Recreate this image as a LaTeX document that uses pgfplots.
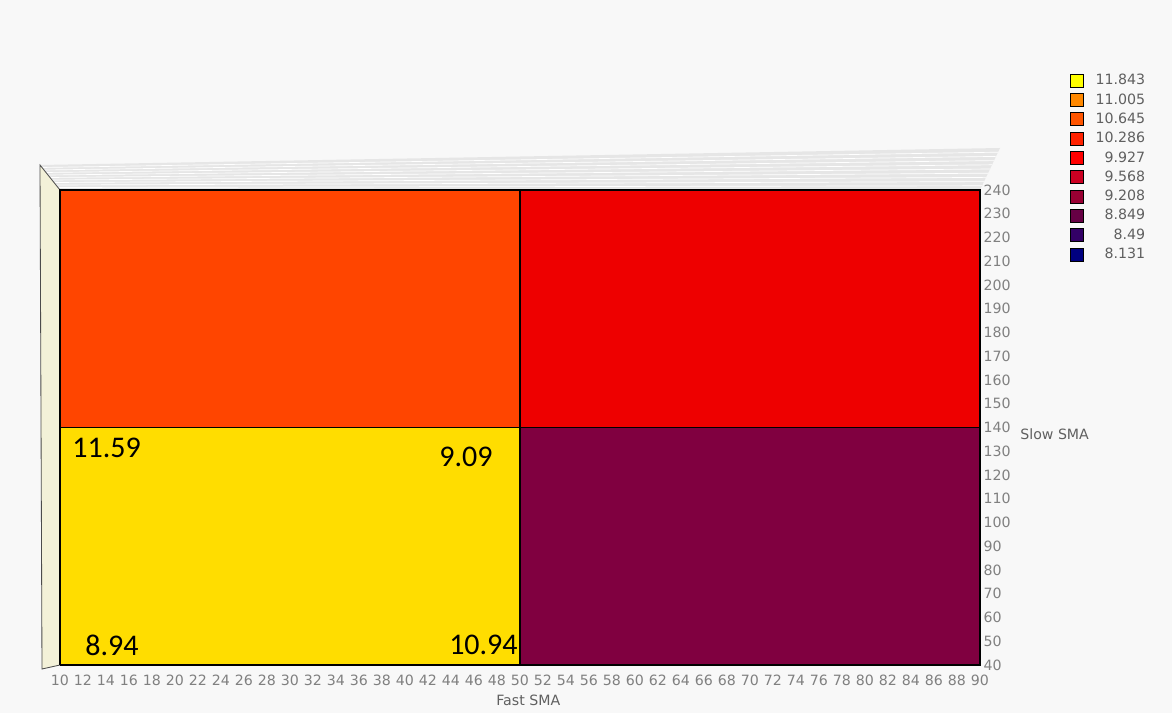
\documentclass[border=0pt]{standalone}
\usepackage{pgfplots}
\pgfplotsset{compat=1.18}
\usepackage{fontspec}
\setmainfont{DejaVu Sans}
\newfontfamily\calib{Carlito}
\definecolor{bg}{HTML}{F8F8F8}
\definecolor{tickgray}{HTML}{808080}
\definecolor{labgray}{HTML}{606060}
\definecolor{wallgray}{HTML}{E6E6E6}
\definecolor{wallcream}{HTML}{F3F1D8}
% cell colours
\definecolor{cTL}{HTML}{FF4500}
\definecolor{cTR}{HTML}{EE0000}
\definecolor{cBL}{HTML}{FFDD00}
\definecolor{cBR}{HTML}{800040}
% legend scale
\definecolor{l1}{HTML}{FFFF00}
\definecolor{l2}{HTML}{FF8800}
\definecolor{l3}{HTML}{FF5500}
\definecolor{l4}{HTML}{FF2200}
\definecolor{l5}{HTML}{FF0000}
\definecolor{l6}{HTML}{CC0022}
\definecolor{l7}{HTML}{990033}
\definecolor{l8}{HTML}{660044}
\definecolor{l9}{HTML}{330066}
\definecolor{l10}{HTML}{000080}

\begin{document}
\begin{tikzpicture}
% page and the back walls of the 3D box, in px (y up)
\begin{scope}[x=0.6pt,y=0.6pt]
\fill[bg] (0,0) rectangle (1172,713);
\fill[wallgray] (40,548) -- (1000,565) -- (980,523) -- (60,523) -- cycle;
\foreach \t in {0.1,0.2,...,0.9}
  \draw[white, line width=0.4pt] ({40+20*\t},{548-25*\t}) -- ({1000-20*\t},{565-42*\t});
\fill[wallcream, draw=black!70, line width=0.5pt] (40,548) -- (60,523) -- (60,48) -- (42,44) -- cycle;
\end{scope}

\begin{axis}[
  at={(36pt,28.8pt)}, anchor=south west,
  scale only axis, width=552pt, height=285pt,
  xmin=10, xmax=90, ymin=40, ymax=240,
  axis line style={draw=none}, tick style={draw=none},
  xtick={10,12,...,90}, ytick={40,50,...,240},
  yticklabel pos=right,
  /pgf/number format/assume math mode=true,
  ticklabel style={font=\fontsize{8.5}{9}\selectfont, text=tickgray, inner sep=1pt},
  xticklabel style={yshift=-5pt},
  yticklabel style={xshift=1pt},
  xlabel={Fast SMA},
  xlabel style={font=\fontsize{8.5}{9}\selectfont, text=labgray, yshift=-1pt, xshift=5pt},
  clip=false,
  legend style={at={(1.0978,1.2453)}, anchor=north west, draw=none, fill=none,
    inner sep=0pt, row sep=3.4pt, nodes={inner sep=0pt},
    font=\fontsize{8.5}{9}\selectfont, text=labgray,
    /tikz/every odd column/.append style={column sep=7pt}},
  legend cell align=right,
  legend image code/.code={\fill[#1] (0pt,-3.9pt) rectangle (7.8pt,3.9pt);},
]
% surface cells (Fast SMA 10-50-90, Slow SMA 40-140-240)
\addplot[fill=cBL, draw=black, line width=0.8pt, forget plot] coordinates {(10,40) (50,40) (50,140) (10,140) (10,40)};
\addplot[fill=cBR, draw=black, line width=0.8pt, forget plot] coordinates {(50,40) (90,40) (90,140) (50,140) (50,40)};
\addplot[fill=cTL, draw=black, line width=0.8pt, forget plot] coordinates {(10,140) (50,140) (50,240) (10,240) (10,140)};
\addplot[fill=cTR, draw=black, line width=0.8pt, forget plot] coordinates {(50,140) (90,140) (90,240) (50,240) (50,140)};

% value labels at the vertices
\node[anchor=north west, inner sep=0pt, font=\calib\fontsize{18}{20}\selectfont, xshift=7.2pt, yshift=-6.3pt] at (axis cs:10,140) {11.59};
\node[anchor=north east, inner sep=0pt, font=\calib\fontsize{18}{20}\selectfont, xshift=-16.2pt, yshift=-11.7pt] at (axis cs:50,140) {9.09};
\node[anchor=south west, inner sep=0pt, font=\calib\fontsize{18}{20}\selectfont, xshift=15pt, yshift=5.4pt] at (axis cs:10,40) {8.94};
\node[anchor=south east, inner sep=0pt, font=\calib\fontsize{18}{20}\selectfont, xshift=-1.2pt, yshift=6pt] at (axis cs:50,40) {10.94};

\node[anchor=west, inner sep=0pt, font=\fontsize{8.5}{9}\selectfont, text=labgray, xshift=24pt, yshift=-4pt] at (axis cs:90,140) {Slow SMA};

\addlegendimage{fill=l1}\addlegendentry{11.843}
\addlegendimage{fill=l2}\addlegendentry{11.005}
\addlegendimage{fill=l3}\addlegendentry{10.645}
\addlegendimage{fill=l4}\addlegendentry{10.286}
\addlegendimage{fill=l5}\addlegendentry{9.927}
\addlegendimage{fill=l6}\addlegendentry{9.568}
\addlegendimage{fill=l7}\addlegendentry{9.208}
\addlegendimage{fill=l8}\addlegendentry{8.849}
\addlegendimage{fill=l9}\addlegendentry{8.49}
\addlegendimage{fill=l10}\addlegendentry{8.131}
\end{axis}
\end{tikzpicture}
\end{document}
